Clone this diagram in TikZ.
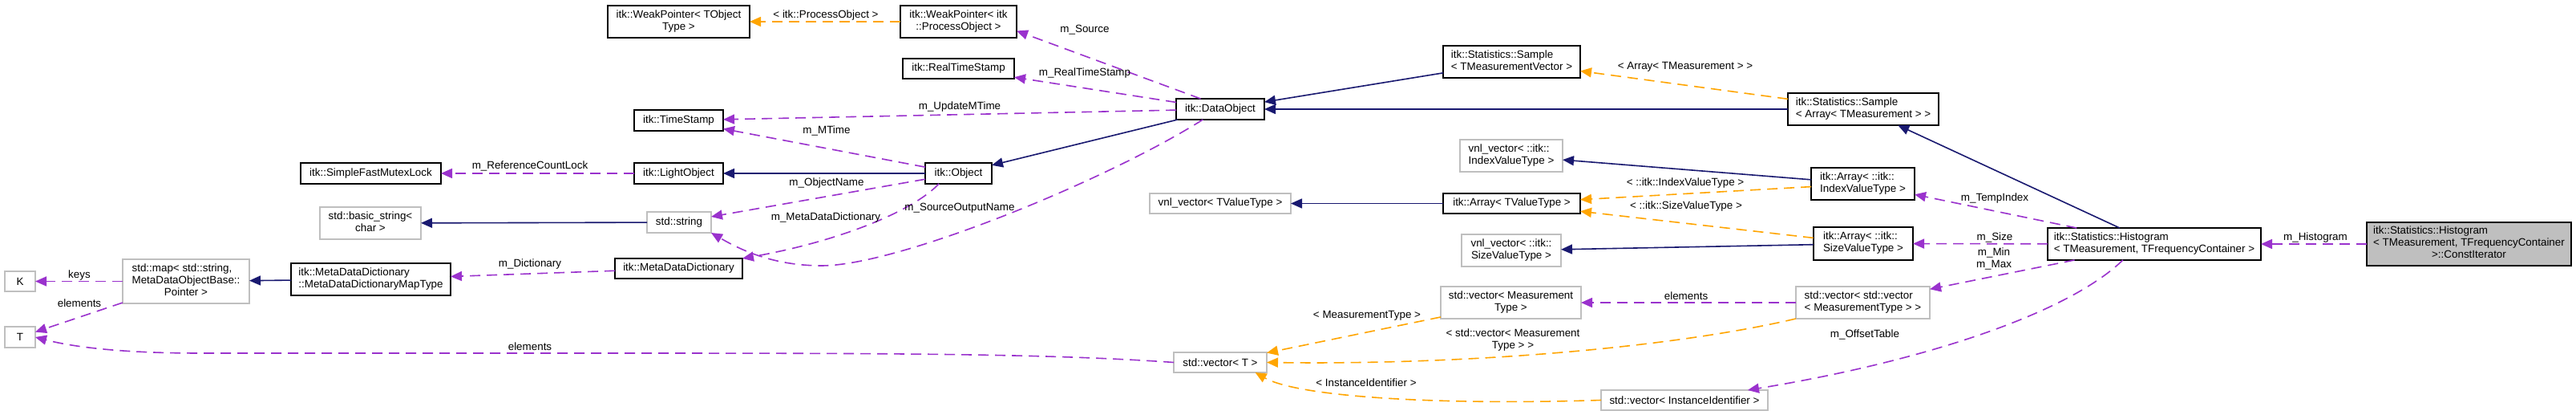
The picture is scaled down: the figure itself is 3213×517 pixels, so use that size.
\documentclass[tikz,border=0pt]{standalone}
\usepackage{fontspec}
\setmainfont{Liberation Sans}
\usetikzlibrary{arrows.meta}
\definecolor{dxnavy}{HTML}{191970}
\definecolor{dxpurple}{HTML}{9A32CD}
\definecolor{dxorange}{HTML}{FFA500}
\definecolor{dxgrey}{HTML}{BFBFBF}
\newcommand{\dxt}[1]{\begin{tabular}{@{}l@{}}#1\end{tabular}}
\newcommand{\dxc}[1]{\multicolumn{1}{@{}c@{}}{#1}}
\begin{document}
\begin{tikzpicture}[x=0.5pt,y=-0.5pt, font=\fontsize{6.7}{7.5}\selectfont,
 box/.style={draw, line width=0.75pt, inner sep=0pt, outer sep=0pt, fill=white},
 cls/.style={box, draw=black},
 ext/.style={box, draw=dxgrey},
 cur/.style={box, draw=black, fill=dxgrey},
 tip/.style={-{Triangle[length=7pt,width=6pt]}},
 inh/.style={tip, draw=dxnavy, line width=0.8pt},
 use/.style={tip, draw=dxpurple, line width=0.8pt, dash pattern=on 6.5pt off 4pt},
 tpl/.style={tip, draw=dxorange, line width=0.8pt, dash pattern=on 6.5pt off 4pt},
 lbl/.style={inner sep=0pt}]
\fill[white] (0,0) rectangle (3213,517);
\useasboundingbox (0,0) rectangle (3213,517);

% nodes
\node[cls, minimum width=88.5pt, minimum height=20pt] (wptobj) at (846.5,27) {\dxt{itk::WeakPointer< TObject\\\dxc{Type >}}};
\node[cls, minimum width=72.5pt, minimum height=20pt] (wppo) at (1195.5,27) {\dxt{itk::WeakPointer< itk\\\dxc{::ProcessObject >}}};
\node[cls, minimum width=69.5pt, minimum height=12.5pt] (rts) at (1195.5,85.5) {itk::RealTimeStamp};
\node[cls, minimum width=55.5pt, minimum height=13pt] (ts) at (846.5,150) {itk::TimeStamp};
\node[cls, minimum width=55.5pt, minimum height=13pt] (lo) at (846.5,216) {itk::LightObject};
\node[cls, minimum width=87.5pt, minimum height=13pt] (sfml) at (462.5,216) {itk::SimpleFastMutexLock};
\node[cls, minimum width=41.5pt, minimum height=13pt] (obj) at (1195.5,216) {itk::Object};
\node[cls, minimum width=55pt, minimum height=13pt] (dobj) at (1522,136) {itk::DataObject};
\node[ext, minimum width=63pt, minimum height=20pt] (bstr) at (462,278) {\dxt{std::basic\_string<\\\dxc{char >}}};
\node[ext, minimum width=40pt, minimum height=13pt] (str) at (847,277) {std::string};
\node[cls, minimum width=79.5pt, minimum height=12.5pt] (mdd) at (846.5,334.5) {itk::MetaDataDictionary};
\node[cls, minimum width=99.5pt, minimum height=20pt] (mddmt) at (462.5,348) {\dxt{itk::MetaDataDictionary\\\dxc{::MetaDataDictionaryMapType}}};
\node[ext, minimum width=79pt, minimum height=27.5pt] (smap) at (232,350.5) {\dxt{std::map< std::string,\\MetaDataObjectBase::\\\dxc{Pointer >}}};
\node[ext, minimum width=19pt, minimum height=12.5pt] (nk) at (25,350.5) {K};
\node[ext, minimum width=19pt, minimum height=13pt] (nt) at (25,420) {T};
\node[ext, minimum width=58pt, minimum height=12.5pt] (vecT) at (1522,451.5) {std::vector< T >};
\node[cls, minimum width=85.5pt, minimum height=20pt] (sTMV) at (1885.5,77) {\dxt{itk::Statistics::Sample\\\dxc{< TMeasurementVector >}}};
\node[cls, minimum width=94pt, minimum height=20pt] (sArr) at (2324,136) {\dxt{itk::Statistics::Sample\\\dxc{< Array< TMeasurement > >}}};
\node[ext, minimum width=64pt, minimum height=20pt] (vnlIdx) at (1885,194) {\dxt{vnl\_vector< ::itk::\\\dxc{IndexValueType >}}};
\node[cls, minimum width=64.5pt, minimum height=20pt] (arrIdx) at (2323.5,229) {\dxt{itk::Array< ::itk::\\\dxc{IndexValueType >}}};
\node[cls, minimum width=85.5pt, minimum height=12.5pt] (arrTV) at (1885.5,253.5) {itk::Array< TValueType >};
\node[ext, minimum width=88pt, minimum height=12.5pt] (vnlTV) at (1522,253.5) {vnl\_vector< TValueType >};
\node[cls, minimum width=62pt, minimum height=20.5pt] (arrSz) at (2324,303.5) {\dxt{itk::Array< ::itk::\\\dxc{SizeValueType >}}};
\node[ext, minimum width=62pt, minimum height=20pt] (vnlSz) at (1885,312) {\dxt{vnl\_vector< ::itk::\\\dxc{SizeValueType >}}};
\node[ext, minimum width=87.5pt, minimum height=20pt] (vecMT) at (1884.5,377) {\dxt{std::vector< Measurement\\\dxc{Type >}}};
\node[ext, minimum width=83.5pt, minimum height=20pt] (vecVMT) at (2323.5,377) {\dxt{std::vector< std::vector\\\dxc{< MeasurementType > >}}};
\node[ext, minimum width=104pt, minimum height=12.5pt] (vecII) at (2101,498.5) {std::vector< InstanceIdentifier >};
\node[cls, minimum width=133pt, minimum height=20pt] (hist) at (2687,304) {\dxt{itk::Statistics::Histogram\\\dxc{< TMeasurement, TFrequencyContainer >}}};
\node[cur, minimum width=127.5pt, minimum height=27pt] (citer) at (3079.5,304) {\dxt{itk::Statistics::Histogram\\< TMeasurement, TFrequencyContainer\\\dxc{>::ConstIterator}}};

% inheritance
\draw[inh] (obj) -- (lo);
\draw[inh] (dobj) -- (obj);
\draw[inh] (sTMV) -- (dobj);
\draw[inh] (sArr) -- (dobj);
\draw[inh] (hist) -- (sArr);
\draw[inh] (str) -- (bstr);
\draw[inh] (mddmt) -- (smap);
\draw[inh] (arrIdx) -- (vnlIdx);
\draw[inh] (arrTV) -- (vnlTV);
\draw[inh] (arrSz) -- (vnlSz);

% template instances
\draw[tpl] (wppo) -- (wptobj);
\draw[tpl] (sArr) -- (sTMV);
\draw[tpl] (arrIdx) -- (arrTV);
\draw[tpl] (arrSz) -- (arrTV);
\draw[tpl] (vecMT) -- (vecT);
\draw[tpl] (vecVMT.south west) .. controls (2100,430) and (1850,455) .. (vecT.east);
\draw[tpl] (vecII.west) .. controls (1800,505) and (1620,495) .. (vecT.-16);

% usage
\draw[use] (lo) -- (sfml);
\draw[use] (dobj.152) -- (wppo.-9);
\draw[use] (dobj) -- (rts);
\draw[use] (dobj) -- (ts);
\draw[use] (obj) -- (ts);
\draw[use] (obj) -- (str);
\draw[use] (obj.208) .. controls (1140,262) and (1050,300) .. (mdd.north east);
\draw[use] (dobj.211) .. controls (1380,225) and (1120,331) .. (1025,331) .. controls (970,331) and (930,315) .. (str.south east);
\draw[use] (mdd) -- (mddmt);
\draw[use] (smap) -- (nk);
\draw[use] (smap) -- (nt);
\draw[use] (vecT.west) .. controls (1300,440) and (1100,440) .. (700,440) -- (250,440) .. controls (150,440) and (90,432) .. (nt.east);
\draw[use] (vecVMT) -- (vecMT);
\draw[use] (hist) -- (arrIdx);
\draw[use] (hist) -- (arrSz);
\draw[use] (hist) -- (vecVMT);
\draw[use] (hist.207) .. controls (2580,390) and (2400,450) .. (vecII.9);
\draw[use] (citer) -- (hist);

% labels
\node[lbl] (l01) at (1030,19) {< itk::ProcessObject >};
\node[lbl] (l02) at (1353,37) {m\_Source};
\node[lbl] (l03) at (1353,91) {m\_RealTimeStamp};
\node[lbl] (l04) at (1197,133) {m\_UpdateMTime};
\node[lbl] (l05) at (1031,163) {m\_MTime};
\node[lbl] (l06) at (661,207) {m\_ReferenceCountLock};
\node[lbl] (l07) at (1031,228) {m\_ObjectName};
\node[lbl] (l08) at (1197,259) {m\_SourceOutputName};
\node[lbl] (l09) at (1030,271) {m\_MetaDataDictionary};
\node[lbl] (l10) at (661,329) {m\_Dictionary};
\node[lbl] (l11) at (99,343) {keys};
\node[lbl] (l12) at (99,378) {elements};
\node[lbl] (l13) at (661,432) {elements};
\node[lbl] (l14) at (2102,83) {< Array< TMeasurement > >};
\node[lbl] (l15) at (2102,228) {< ::itk::IndexValueType >};
\node[lbl] (l16) at (2103,257) {< ::itk::SizeValueType >};
\node[lbl] (l17) at (2103,369) {elements};
\node[lbl] (l18) at (1705,393) {< MeasurementType >};
\node[lbl] (l19) at (1887,424) {\dxt{< std::vector< Measurement\\\dxc{Type > >}}};
\node[lbl] (l20) at (1704,477) {< InstanceIdentifier >};
\node[lbl] (l21) at (2488,247) {m\_TempIndex};
\node[lbl] (l22) at (2488,296) {m\_Size};
\node[lbl] (l23) at (2487,323) {\dxt{\dxc{m\_Min}\\\dxc{m\_Max}}};
\node[lbl] (l24) at (2326,417) {m\_OffsetTable};
\node[lbl] (l25) at (2888,296) {m\_Histogram};
\end{tikzpicture}
\end{document}
